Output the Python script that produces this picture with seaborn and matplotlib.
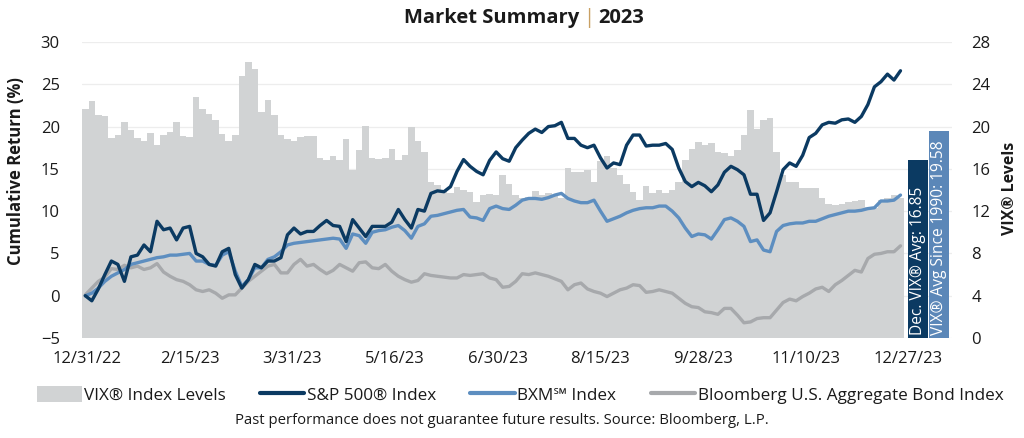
import numpy as np
import pandas as pd
import matplotlib
matplotlib.use("Agg")
import matplotlib.pyplot as plt
from matplotlib.patches import Patch
from matplotlib.lines import Line2D
import seaborn as sns

# ---------------- data (sampled every ~2 trading days, 2023) ----------------
vix = [21.7, 22.4, 21.1, 21.0, 18.9, 19.2, 20.4, 19.7, 18.9, 18.6,
       19.4, 18.3, 19.2, 19.5, 20.4, 19.1, 19.0, 22.8, 21.7, 21.2,
       20.6, 19.3, 18.6, 19.2, 24.8, 26.1, 25.4, 21.4, 22.5, 21.1,
       19.2, 18.8, 18.6, 19.0, 19.1, 19.1, 17.0, 16.8, 17.2, 16.8,
       18.8, 15.9, 17.8, 20.1, 17.0, 16.9, 17.0, 17.9, 16.8, 17.3,
       20.0, 18.6, 17.6, 14.8, 14.5, 14.0, 13.7, 14.3, 14.0, 13.8,
       12.9, 13.5, 13.6, 13.5, 15.4, 14.6, 13.5, 13.2, 13.3, 13.9,
       13.5, 13.7, 13.5, 13.2, 16.1, 15.7, 15.7, 15.9, 14.8, 16.7,
       17.2, 16.1, 15.4, 14.6, 13.8, 13.1, 14.4, 13.7, 14.0, 13.7,
       14.0, 14.8, 16.8, 17.9, 18.5, 18.3, 18.4, 17.6, 17.5, 17.2,
       17.8, 19.2, 21.6, 19.8, 20.6, 20.8, 17.6, 15.4, 14.8, 14.8,
       14.2, 14.2, 14.2, 13.2, 12.7, 12.6, 12.7, 12.9, 13.0, 13.1,
       12.4, 12.3, 13.1, 13.2, 13.5, 13.2]

sp500 = [0.0, -0.6, 0.8, 2.5, 4.1, 3.7, 1.7, 4.6, 4.8, 6.0,
         5.2, 8.8, 7.8, 8.0, 6.6, 8.0, 8.2, 5.0, 4.6, 3.7,
         3.5, 5.2, 5.6, 2.5, 0.9, 1.9, 3.7, 3.3, 4.1, 4.1,
         4.5, 7.2, 8.0, 7.3, 7.6, 7.6, 8.3, 8.9, 8.3, 8.2,
         6.4, 9.0, 8.0, 7.0, 8.2, 8.2, 8.2, 8.7, 10.2, 9.0,
         8.0, 10.2, 10.0, 12.1, 12.4, 12.3, 12.9, 14.7, 16.1, 15.3,
         14.7, 14.3, 16.0, 17.0, 16.2, 15.9, 17.5, 18.4, 19.2, 19.7,
         19.3, 20.0, 20.1, 20.5, 18.6, 18.6, 17.8, 17.5, 17.8, 16.3,
         15.1, 15.7, 15.5, 17.8, 19.0, 19.0, 17.7, 17.8, 17.8, 18.0,
         17.3, 15.1, 13.5, 12.9, 13.4, 13.0, 12.3, 13.1, 14.6, 15.3,
         14.9, 14.3, 12.0, 12.0, 8.9, 9.8, 12.3, 14.9, 15.7, 15.3,
         16.6, 18.7, 19.2, 20.2, 20.5, 20.4, 20.8, 20.9, 20.5, 21.2,
         22.6, 24.7, 25.3, 26.2, 25.5, 26.6]

bxm = [0.0, 0.3, 0.9, 1.7, 2.3, 2.7, 3.1, 3.7, 3.9, 4.1,
       4.3, 4.5, 4.6, 4.8, 4.8, 4.9, 5.0, 4.1, 4.1, 3.7,
       3.6, 4.8, 5.2, 2.9, 1.1, 1.9, 3.3, 3.3, 4.3, 4.6,
       5.2, 6.0, 6.2, 6.3, 6.4, 6.5, 6.6, 6.7, 6.8, 6.7,
       5.6, 7.3, 7.1, 6.2, 7.5, 7.7, 7.8, 8.1, 8.3, 7.7,
       6.8, 8.2, 8.5, 9.4, 9.5, 9.7, 9.9, 10.1, 10.2, 9.3,
       9.2, 8.9, 10.3, 10.6, 10.3, 10.2, 10.7, 11.3, 11.5, 11.5,
       11.4, 11.6, 11.9, 12.1, 11.5, 11.2, 11.0, 11.0, 11.3, 10.0,
       8.8, 9.1, 9.4, 9.8, 10.1, 10.3, 10.4, 10.4, 10.6, 10.6,
       10.0, 9.2, 8.0, 7.0, 7.3, 7.2, 6.7, 7.8, 9.0, 9.2,
       8.8, 8.2, 6.4, 6.6, 5.4, 5.2, 7.6, 8.3, 8.5, 8.6,
       8.6, 8.8, 8.8, 9.1, 9.4, 9.6, 9.8, 10.0, 10.0, 10.1,
       10.3, 10.4, 11.2, 11.2, 11.3, 11.9]

agg_bond = [0.1, 0.9, 1.7, 2.2, 3.2, 3.1, 3.6, 3.3, 3.5, 3.1,
            3.3, 3.8, 2.8, 2.3, 1.9, 1.7, 1.3, 0.7, 0.5, 0.7,
            0.3, -0.3, 0.1, 0.1, 0.9, 1.7, 2.3, 2.9, 3.5, 3.7,
            2.7, 2.7, 3.7, 4.3, 3.5, 3.7, 3.1, 2.6, 3.0, 3.7,
            3.3, 2.9, 3.9, 4.0, 3.3, 3.2, 3.7, 2.9, 2.3, 1.9,
            1.6, 1.8, 2.6, 2.4, 2.3, 2.2, 2.1, 2.1, 2.5, 2.4,
            2.5, 2.6, 2.1, 1.9, 1.0, 1.1, 1.7, 2.6, 2.5, 2.7,
            2.5, 2.3, 2.0, 1.7, 0.7, 1.3, 1.5, 0.8, 0.5, 0.3,
            -0.1, 0.3, 0.7, 0.9, 1.3, 1.2, 0.4, 0.5, 0.7, 0.5,
            0.3, -0.3, -0.9, -1.3, -1.4, -1.9, -2.0, -2.2, -1.5, -1.5,
            -2.3, -3.2, -3.1, -2.7, -2.6, -2.6, -1.7, -0.8, -0.4, -0.6,
            -0.1, 0.3, 0.8, 1.0, 0.5, 1.3, 1.8, 2.4, 3.0, 2.8,
            4.4, 4.9, 5.0, 5.2, 5.2, 5.9]

avg_labels = ["Dec. VIX\u00ae Avg: 16.85", "VIX\u00ae Avg Since 1990: 19.58"]
avg_values = [16.85, 19.58]

tick_labels = ["12/31/22", "2/15/23", "3/31/23", "5/16/23", "6/30/23",
               "8/15/23", "9/28/23", "11/10/23", "12/27/23"]

series_names = ["S&P 500\u00ae Index", "BXM\u2120 Index",
                "Bloomberg U.S. Aggregate Bond Index"]

# ---------------- styling ----------------
sns.set_theme(style="white")
plt.rcParams["font.family"] = ["Open Sans", "DejaVu Sans"]

C_VIX = "#d1d3d4"
C_SP = "#0b3a62"
C_BXM = "#5d8ec0"
C_AGG = "#a7a9ac"
C_AVG90 = "#5b87b8"
C_TXT = "#1a1a1a"

fig = plt.figure(figsize=(10.24, 4.38), dpi=100)
ax2 = fig.add_axes([0.0801, 0.2283, 0.8496, 0.6758])  # VIX (right axis)
ax1 = fig.add_axes(ax2.get_position(), sharex=ax2)
ax1.set_zorder(ax2.get_zorder() + 1)
ax1.patch.set_visible(False)

n = len(vix)
idx = np.arange(n)

# VIX bars on right scale
ax2.bar(idx, vix, width=1.0, color=C_VIX, linewidth=0, zorder=2)
# average bars
avg_pos = [127.7, 130.9]
avg_cols = [C_SP, C_AVG90]
ax2.bar(avg_pos, avg_values, width=[3.07, 3.2], color=avg_cols, linewidth=0, zorder=3)
for xp, lab in zip(avg_pos, avg_labels):
    ax2.text(xp, 0.3, lab, rotation=90, ha="center", va="bottom",
             color="white", fontsize=11.2, zorder=4)

ax2.set_ylim(0, 28)
ax2.set_yticks(np.arange(0, 29, 4))
ax2.yaxis.tick_right()
ax2.yaxis.set_label_position("right")
ax2.grid(axis="y", color="#ededed", linewidth=0.9, zorder=0)
ax2.set_axisbelow(True)
ax2.set_ylabel("VIX\u00ae Levels", fontsize=11.5, fontweight="bold", color=C_TXT)
ax2.yaxis.set_label_coords(1.058, 0.507)

# Lines on left scale
df = pd.DataFrame({"idx": np.tile(idx, 3),
                   "value": sp500 + bxm + agg_bond,
                   "series": np.repeat(series_names, n)})
sns.lineplot(data=df, x="idx", y="value", hue="series", hue_order=series_names[::-1],
             palette={series_names[0]: C_SP, series_names[1]: C_BXM, series_names[2]: C_AGG},
             linewidth=2.4, ax=ax1, legend=False)
ax1.set_ylim(-5, 30)
ax1.set_yticks(np.arange(-5, 31, 5))
ax1.set_ylabel("Cumulative Return (%)", fontsize=12, fontweight="bold", color=C_TXT)
ax1.yaxis.set_label_coords(-0.066, 0.564)
ax1.set_xlabel("")
ax2.set_xlabel("")
ax1.set_xlim(-0.5, 132.9)

tick_pos = np.linspace(0.3, 126.2, len(tick_labels))
ax1.set_xticks(tick_pos)
ax1.set_xticklabels(tick_labels)
ax2.tick_params(axis="x", labelbottom=False, length=0)
ax1.tick_params(axis="x", labelsize=12, colors=C_TXT, length=0, pad=9)
ax1.tick_params(axis="y", labelsize=12, colors=C_TXT, length=0, pad=16)
ax2.tick_params(axis="y", labelsize=12, colors=C_TXT, length=0, pad=14)

for a in (ax1, ax2):
    for s in a.spines.values():
        s.set_visible(False)

# Title
fig.text(0.566, 0.958, "Market Summary", ha="right", va="center", fontsize=14.5,
         fontweight="bold", color=C_TXT)
fig.text(0.5745, 0.958, "|", ha="center", va="center", fontsize=14.5, color="#c9a063")
fig.text(0.584, 0.958, "2023", ha="left", va="center", fontsize=14.5,
         fontweight="bold", color=C_TXT)

# Legend
handles = [Patch(facecolor=C_VIX, edgecolor="none"),
           Line2D([], [], color=C_SP, linewidth=3),
           Line2D([], [], color=C_BXM, linewidth=3),
           Line2D([], [], color=C_AGG, linewidth=3)]
labels = ["VIX\u00ae Index Levels"] + series_names
fig.legend(handles, labels, loc="center", bbox_to_anchor=(0.508, 0.098), ncol=4,
           frameon=False, fontsize=12.3, handlelength=2.6, handletextpad=0.15,
           columnspacing=2.0, handleheight=1.0, labelcolor=C_TXT)

fig.text(0.49, 0.04, "Past performance does not guarantee future results. Source: Bloomberg, L.P.",
         ha="center", va="center", fontsize=10.7, color=C_TXT)

fig.savefig("out.png", dpi=100)
